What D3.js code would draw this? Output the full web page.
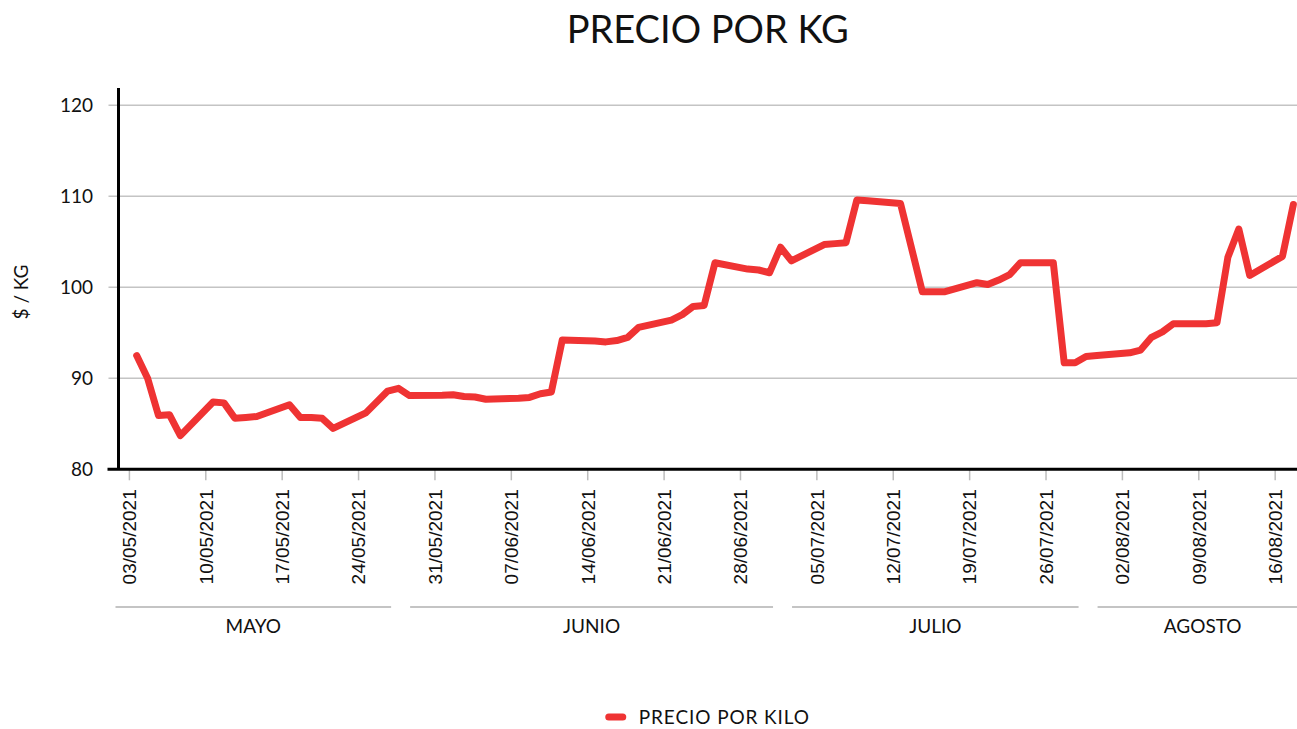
<!DOCTYPE html>
<html lang="es">
<head>
<meta charset="UTF-8">
<title>Precio por KG</title>
<script src="https://d3js.org/d3.v7.min.js"></script>
<style>
  body { margin: 0; background: #fff; }
  svg { display: block; }
  .grid line { stroke: #c4c4c4; stroke-width: 1.5px; }
  .label { font-family: Lato, "Noto Sans", sans-serif; fill: #111; }
  .xtick text { font-family: "Liberation Sans", Arial, sans-serif; font-size: 19px; fill: #111; }
  .xtick line { stroke: #bdbdbd; stroke-width: 1.5px; }
  .line { fill: none; stroke: #ef3333; stroke-width: 7px; stroke-linejoin: round; stroke-linecap: round; }
</style>
</head>
<body>
<svg width="1297" height="729"></svg>
<script>
// business days
const dates = [
  "2021-05-03","2021-05-04","2021-05-05","2021-05-06","2021-05-07",
  "2021-05-10","2021-05-11","2021-05-12","2021-05-13","2021-05-14",
  "2021-05-17","2021-05-18","2021-05-19","2021-05-20","2021-05-21",
  "2021-05-24","2021-05-26","2021-05-27","2021-05-28",
  "2021-05-31","2021-06-01","2021-06-02","2021-06-03","2021-06-04",
  "2021-06-07","2021-06-08","2021-06-09","2021-06-10","2021-06-11",
  "2021-06-14","2021-06-15","2021-06-16","2021-06-17","2021-06-18",
  "2021-06-21","2021-06-22","2021-06-23","2021-06-24","2021-06-25",
  "2021-06-28","2021-06-29","2021-06-30","2021-07-01","2021-07-02",
  "2021-07-05","2021-07-06","2021-07-07","2021-07-08","2021-07-09",
  "2021-07-12","2021-07-14","2021-07-15","2021-07-16",
  "2021-07-19","2021-07-20","2021-07-21","2021-07-22","2021-07-23",
  "2021-07-26","2021-07-27","2021-07-28","2021-07-29","2021-07-30",
  "2021-08-02","2021-08-03","2021-08-04","2021-08-05","2021-08-06",
  "2021-08-09","2021-08-10","2021-08-11","2021-08-12","2021-08-13",
  "2021-08-16","2021-08-17"
];
const prices = [
  92.5, 90.0, 85.9, 86.0, 83.7,
  87.4, 87.3, 85.6, 85.7, 85.8,
  87.1, 85.7, 85.7, 85.6, 84.5,
  86.2, 88.6, 88.9, 88.1,
  88.15, 88.2, 88.0, 87.95, 87.7,
  87.8, 87.9, 88.3, 88.5, 94.2,
  94.1, 94.0, 94.15, 94.5, 95.6,
  96.4, 97.0, 97.9, 98.0, 102.7,
  102.0, 101.9, 101.6, 104.4, 102.9,
  104.7, 104.8, 104.9, 109.6, 109.5,
  109.2, 99.5, 99.5, 99.5,
  100.5, 100.3, 100.8, 101.4, 102.7,
  102.7, 91.7, 91.7, 92.4, 92.5,
  92.8, 93.1, 94.5, 95.1, 96.0,
  96.0, 96.1, 103.3, 106.4, 101.3,
  103.4, 109.1
];
const yTicks = [80, 90, 100, 110, 120];
const monthNames = ["MAYO", "JUNIO", "JULIO", "AGOSTO"];
const monthStarts = ["2021-05-01", "2021-05-29", "2021-07-03", "2021-07-31"];
const monthEnds = ["2021-05-29", "2021-07-03", "2021-07-31", "2021-08-21"];

const parse = d3.timeParse("%Y-%m-%d");
const data = dates.map((d, i) => ({ date: d3.timeHour.offset(parse(d), 16), value: prices[i] }));

const plotLeft = 118.5, plotRight = 1297, plotTop = 88, plotBottom = 469.3;

const svg = d3.select("svg");

const x = d3.scaleTime()
  .domain([parse("2021-05-02"), parse("2021-08-18")])
  .range([plotLeft, plotRight]);
const y = d3.scaleLinear()
  .domain([80, 121.9])
  .range([plotBottom, plotTop]);

// title
svg.append("text")
  .attr("class", "label")
  .attr("x", (plotLeft + plotRight) / 2)
  .attr("y", 43)
  .attr("text-anchor", "middle")
  .style("font-size", "38px")
  .text("PRECIO POR KG");

// grid
svg.append("g")
  .attr("class", "grid")
  .selectAll("line")
  .data(yTicks.slice(1))
  .join("line")
  .attr("x1", plotLeft - 10)
  .attr("x2", plotRight)
  .attr("y1", d => y(d))
  .attr("y2", d => y(d));

// y tick labels
svg.append("g")
  .selectAll("text")
  .data(yTicks)
  .join("text")
  .attr("class", "label")
  .attr("x", 93)
  .attr("y", d => y(d))
  .attr("dy", "0.36em")
  .attr("text-anchor", "end")
  .style("font-size", "19px")
  .text(d => d);

svg.append("text")
  .attr("class", "label")
  .attr("transform", "translate(28,292) rotate(-90)")
  .attr("text-anchor", "middle")
  .style("font-size", "19px")
  .text("$ / KG");

// x ticks (mondays)
const fmt = d3.timeFormat("%d/%m/%Y");
const mondays = d3.timeMonday.range(parse("2021-05-03"), parse("2021-08-17"));
const xt = svg.append("g")
  .attr("class", "xtick")
  .selectAll("g")
  .data(mondays)
  .join("g")
  .attr("transform", d => `translate(${x(d)},0)`);
xt.append("line")
  .attr("y1", plotBottom)
  .attr("y2", plotBottom + 11);
xt.append("text")
  .attr("transform", `translate(0,${plotBottom + 20}) rotate(-90)`)
  .attr("dy", "0.36em")
  .attr("text-anchor", "end")
  .text(d => fmt(d));

// month groups
const groups = monthNames.map((m, i) => {
  const x1 = Math.max(x(parse(monthStarts[i])) - 3, plotLeft - 3);
  const x2 = x(parse(monthEnds[i])) - 22;
  return { name: m, x1, x2 };
});
const mg = svg.append("g");
mg.selectAll("line")
  .data(groups)
  .join("line")
  .attr("x1", d => d.x1)
  .attr("x2", d => Math.min(d.x2, plotRight))
  .attr("y1", 607)
  .attr("y2", 607)
  .attr("stroke", "#c4c4c4")
  .attr("stroke-width", 2);
mg.selectAll("text")
  .data(groups)
  .join("text")
  .attr("class", "label")
  .attr("x", d => (d.x1 + d.x2) / 2)
  .attr("y", 633)
  .attr("text-anchor", "middle")
  .style("font-size", "19px")
  .text(d => d.name);

// axes lines
svg.append("line")
  .attr("x1", plotLeft - 11).attr("x2", plotRight)
  .attr("y1", plotBottom).attr("y2", plotBottom)
  .attr("stroke", "#000").attr("stroke-width", 3);
svg.append("line")
  .attr("x1", plotLeft).attr("x2", plotLeft)
  .attr("y1", plotTop).attr("y2", plotBottom)
  .attr("stroke", "#000").attr("stroke-width", 3);

// line
svg.append("clipPath").attr("id", "clip")
  .append("rect")
  .attr("x", plotLeft).attr("y", 0)
  .attr("width", plotRight - plotLeft).attr("height", plotBottom);

const line = d3.line()
  .x(d => x(d.date))
  .y(d => y(d.value));

svg.append("path")
  .datum(data)
  .attr("class", "line")
  .attr("clip-path", "url(#clip)")
  .attr("d", line);

// legend
const lg = svg.append("g").attr("transform", `translate(${(plotLeft + plotRight) / 2},717)`);
lg.append("line")
  .attr("x1", -99).attr("x2", -85)
  .attr("stroke", "#ef3333").attr("stroke-width", 7).attr("stroke-linecap", "round");
lg.append("text")
  .attr("class", "label")
  .attr("x", -69)
  .attr("dy", "0.36em")
  .style("font-size", "19px")
  .style("letter-spacing", "0.9px")
  .text("PRECIO POR KILO");
</script>
</body>
</html>
